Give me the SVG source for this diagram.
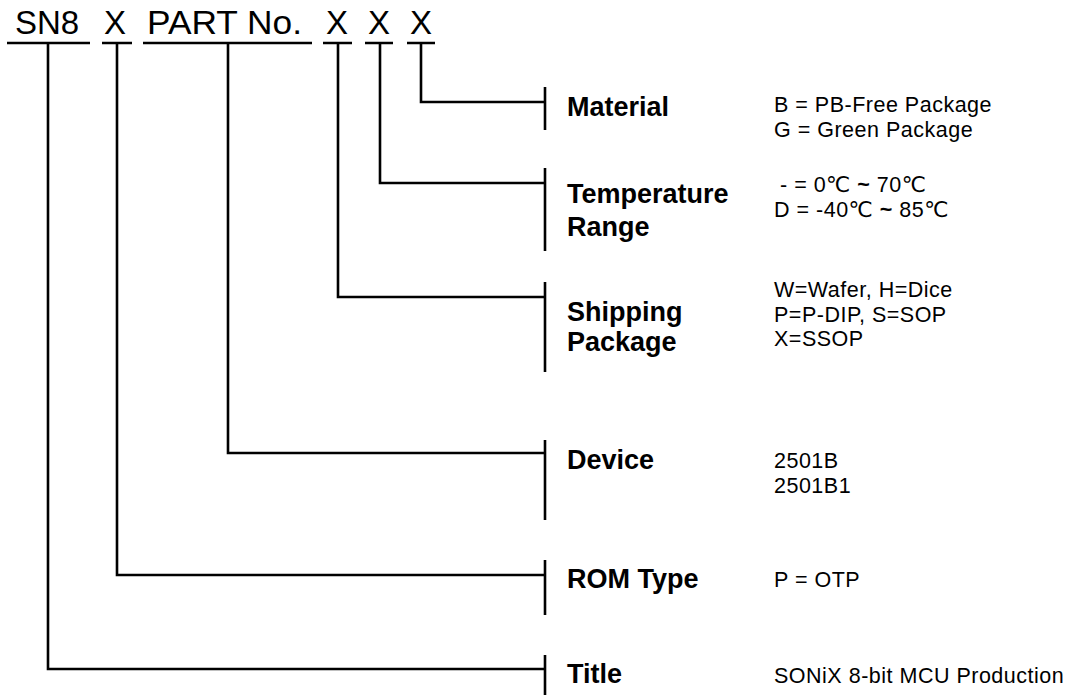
<svg xmlns="http://www.w3.org/2000/svg" width="1077" height="695" viewBox="0 0 1077 695">
<style>
.ln{stroke:#000;stroke-width:2.6;fill:none;stroke-linecap:butt}
.hd{font-family:"Liberation Sans",Arial,sans-serif;font-size:33px;fill:#000}
.lb{font-family:"Liberation Sans",Arial,sans-serif;font-size:27px;font-weight:bold;fill:#000}
.vl{font-family:"Liberation Sans","DejaVu Sans",Arial,sans-serif;font-size:21.5px;letter-spacing:0.5px;fill:#000}
</style>
<rect width="1077" height="695" fill="#fff"/>
<g id="header">
<text class="hd" x="15" y="34">SN8</text>
<text class="hd" x="104" y="34">X</text>
<text class="hd" x="147" y="34" textLength="155" lengthAdjust="spacingAndGlyphs">PART No.</text>
<text class="hd" x="326" y="34">X</text>
<text class="hd" x="368" y="34">X</text>
<text class="hd" x="410" y="34">X</text>
<path class="ln" d="M7 43H90M102 43H132M143 43H312M323 43H352M365 43H393M407 43H435"/>
</g>
<g id="connectors">
<path class="ln" d="M421 43V102H545"/>
<path class="ln" d="M380 43V183H545"/>
<path class="ln" d="M338 43V297H545"/>
<path class="ln" d="M228 43V453H545"/>
<path class="ln" d="M117 43V575H545"/>
<path class="ln" d="M48 43V669H545"/>
</g>
<g id="material">
<path class="ln" d="M545 87V130"/>
<text class="lb" x="567" y="116">Material</text>
<text class="vl" x="774" y="112">B = PB-Free Package</text>
<text class="vl" x="774" y="136.5">G = Green Package</text>
</g>
<g id="temperature">
<path class="ln" d="M545 168V251"/>
<text class="lb" x="567" y="203">Temperature</text>
<text class="lb" x="567" y="236">Range</text>
<text class="vl" x="780" y="192">- = 0℃ <tspan font-weight="bold">~</tspan> 70℃</text>
<text class="vl" x="774" y="216.5">D = -40℃ <tspan font-weight="bold">~</tspan> 85℃</text>
</g>
<g id="shipping">
<path class="ln" d="M545 282V372"/>
<text class="lb" x="567" y="321">Shipping</text>
<text class="lb" x="567" y="351">Package</text>
<text class="vl" x="774" y="297">W=Wafer, H=Dice</text>
<text class="vl" x="774" y="321.5">P=P-DIP, S=SOP</text>
<text class="vl" x="774" y="346">X=SSOP</text>
</g>
<g id="device">
<path class="ln" d="M545 440V520"/>
<text class="lb" x="567" y="469">Device</text>
<text class="vl" x="774" y="468">2501B</text>
<text class="vl" x="774" y="492.5">2501B1</text>
</g>
<g id="romtype">
<path class="ln" d="M545 560V615"/>
<text class="lb" x="567" y="588">ROM Type</text>
<text class="vl" x="774" y="587">P = OTP</text>
</g>
<g id="title">
<path class="ln" d="M545 655V695"/>
<text class="lb" x="567" y="683">Title</text>
<text class="vl" x="774" y="683">SONiX 8-bit MCU Production</text>
</g>
</svg>
